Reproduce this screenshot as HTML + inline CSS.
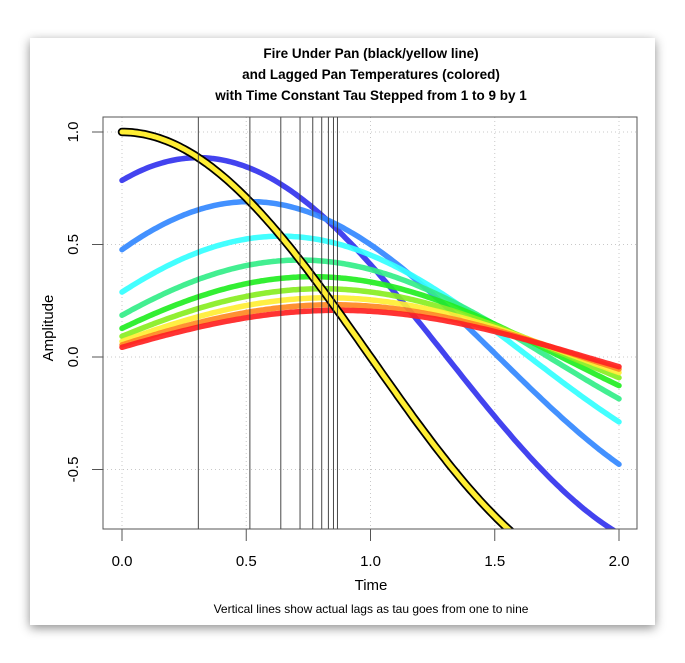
<!DOCTYPE html>
<html><head><meta charset="utf-8"><style>
html,body{margin:0;padding:0;background:#fff;}
#card{position:absolute;left:30px;top:38px;width:625px;height:587px;background:#fff;box-shadow:0 3px 10px rgba(0,0,0,0.45);}
svg{position:absolute;left:0;top:0;}
text{font-family:"Liberation Sans",sans-serif;}
</style></head><body>
<div id="card"></div>
<svg id="s" width="685" height="663" xmlns="http://www.w3.org/2000/svg">
<defs><clipPath id="c"><rect x="103" y="117" width="534" height="412"/></clipPath></defs>
<g font-weight="bold" font-size="13.5" text-anchor="middle">
<text x="371" y="58">Fire Under Pan (black/yellow line)</text>
<text x="371" y="79">and Lagged Pan Temperatures (colored)</text>
<text x="371" y="100">with Time Constant Tau Stepped from 1 to 9 by 1</text>
</g>
<g id="grid" stroke="#c8c8c8" stroke-dasharray="1,3" stroke-width="1"></g>
<g id="curves" clip-path="url(#c)"></g>
<rect x="103" y="117" width="534" height="412" fill="none" stroke="#555" stroke-width="1"/>
<g id="ax" stroke="#555" fill="none"></g>
<g font-size="15" fill="#000" text-anchor="middle" id="lbl"></g>
<text x="371" y="590" font-size="15" text-anchor="middle">Time</text>
<text transform="translate(53,328) rotate(-90)" font-size="15" text-anchor="middle">Amplitude</text>
<text x="371" y="613" font-size="12" text-anchor="middle">Vertical lines show actual lags as tau goes from one to nine</text>
</svg>
<script>
var X=function(t){return 122+t*248.5},Y=function(v){return 357-v*225};
var NS="http://www.w3.org/2000/svg";
function el(p,n,a,txt){var e=document.createElementNS(NS,n);for(var k in a)e.setAttribute(k,a[k]);if(txt!==undefined)e.textContent=txt;document.getElementById(p).appendChild(e);return e;}
var xt=[0,0.5,1,1.5,2],yt=[1,0.5,0,-0.5];
xt.forEach(function(t){el("grid","line",{x1:X(t),x2:X(t),y1:117,y2:529});el("ax","line",{x1:X(t),x2:X(t),y1:529,y2:541});el("lbl","text",{x:X(t),y:566},t.toFixed(1));});
yt.forEach(function(v){el("grid","line",{x1:103,x2:637,y1:Y(v),y2:Y(v)});el("ax","line",{x1:92,x2:103,y1:Y(v),y2:Y(v)});el("lbl","text",{transform:"translate(78,"+Y(v)+") rotate(-90)"},v.toFixed(1));});
var w=Math.PI/2,k=1/3;
function path(f){var d="";for(var i=0;i<=200;i++){var t=i/100;d+=(i?"L":"M")+X(t).toFixed(1)+","+Y(f(t)).toFixed(1);}return d;}
var cols=["#3333ee","#3388ff","#33ffff","#33ee88","#22ee22","#88ee22","#ffee33","#ff8822","#ff2222"];
var lags=[];
for(var n=1;n<=9;n++){(function(n){var a=w*k*n,A=1/Math.sqrt(1+a*a),ph=Math.atan(a);lags.push(ph/w);
el("curves","path",{d:path(function(t){return A*Math.cos(w*t-ph);}),stroke:cols[n-1],"stroke-width":5.5,fill:"none","stroke-opacity":0.92,"stroke-linecap":"round"});})(n);}
el("curves","path",{d:path(function(t){return Math.cos(w*t);}),stroke:"#000","stroke-width":8.5,fill:"none","stroke-linecap":"round"});
el("curves","path",{d:path(function(t){return Math.cos(w*t);}),stroke:"#ffee33","stroke-width":5,fill:"none","stroke-linecap":"round"});
lags.forEach(function(l){el("curves","line",{x1:X(l),x2:X(l),y1:117,y2:529,stroke:"#333","stroke-width":0.9});});
</script>
</body></html>
